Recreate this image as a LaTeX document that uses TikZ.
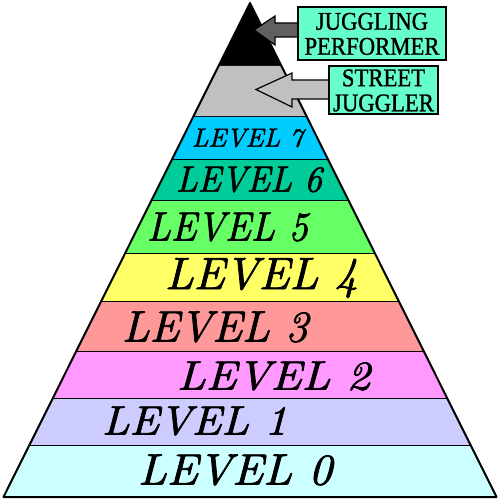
\documentclass[tikz,border=0pt]{standalone}
\usepackage{fontspec}
\usepackage{graphicx}
\newfontfamily\boxfont[FakeBold=1.2]{Liberation Serif}
\newfontfamily\lvfont[FakeBold=1.6]{Latin Modern Roman}
\definecolor{lvgray}{HTML}{C0C0C0}
\definecolor{lvseven}{HTML}{00CCFF}
\definecolor{lvsix}{HTML}{00CC99}
\definecolor{lvfive}{HTML}{66FF66}
\definecolor{lvfour}{HTML}{FFFF66}
\definecolor{lvthree}{HTML}{FF9999}
\definecolor{lvtwo}{HTML}{FF99FF}
\definecolor{lvone}{HTML}{CCCCFF}
\definecolor{lvzero}{HTML}{CCFFFF}
\definecolor{boxfill}{HTML}{66FFCC}
\definecolor{darkarrow}{HTML}{606060}
\newcommand\pyrband[3]{%
  \fill[#3] ({250-0.499*(#1-3)},#1) -- ({250+0.499*(#1-3)},#1) -- ({250+0.499*(#2-3)},#2) -- ({250-0.499*(#2-3)},#2) -- cycle;
  \draw[sepline] ({250-0.499*(#2-3)},#2) -- ({250+0.499*(#2-3)},#2);}
\newcommand\lvtext[3]{\resizebox{#1pt}{#2pt}{\lvfont\itshape #3}}
\newcommand\boxtext[2]{\scalebox{0.89}[1]{\begin{tabular}[b]{@{}c@{}}#1\\#2\end{tabular}}}
\begin{document}
\begin{tikzpicture}[x=1pt,y=-1pt,
  sepline/.style={line width=2pt},
  lvlabel/.style={inner sep=0pt, outer sep=0pt, anchor=center},
  jbox/.style={draw=black, line width=1.5pt, fill=boxfill, inner sep=0pt, text depth=0pt,
    font=\boxfont\fontsize{25.5}{25}\selectfont},
  blockarrow/.style={draw=black, line width=1.2pt, line join=miter}]
\useasboundingbox (0,0) rectangle (500,500);
% apex
\fill[black] (250,3) -- ({250+0.499*63},66) -- ({250-0.499*63},66) -- cycle;
\pyrband{66}{117}{lvgray}
\pyrband{117}{160}{lvseven}
\pyrband{160}{201}{lvsix}
\pyrband{201}{254}{lvfive}
\pyrband{254}{302}{lvfour}
\pyrband{302}{352}{lvthree}
\pyrband{352}{399}{lvtwo}
\pyrband{399}{446}{lvone}
\pyrband{446}{497}{lvzero}
\draw[line width=2pt, line join=round] (250,3) -- ({250-0.499*494},497) -- ({250+0.499*494},497) -- cycle;
% labels
\node[lvlabel] (l7) at (247.5,138) {\lvtext{111}{18}{LEVEL 7}};
\node[lvlabel] (l6) at (249,179.5) {\lvtext{146}{25}{LEVEL 6}};
\node[lvlabel] (l5) at (227.5,227) {\lvtext{161}{28}{LEVEL 5}};
\node[lvlabel] (l4) at (261.5,278) {\lvtext{193}{31}{LEVEL 4}};
\node[lvlabel] (l3) at (215,327) {\lvtext{186}{30}{LEVEL 3}};
\node[lvlabel] (l2) at (273.5,376) {\lvtext{193}{28}{LEVEL 2}};
\node[lvlabel] (l1) at (194.5,421) {\lvtext{185}{28}{LEVEL 1}};
\node[lvlabel] (l0) at (235,470) {\lvtext{194}{30}{LEVEL 0}};
% arrows
\coordinate (t1) at (254,30);
\coordinate (t2) at (256,89.5);
\draw[blockarrow, fill=darkarrow] (300,23) -- (275,23) -- (275,16) -- (t1) -- (275,45) -- (275,37) -- (300,37) -- cycle;
\draw[blockarrow, fill=lvgray] (331,80) -- (292,80) -- (292,73) -- (t2) -- (292,107) -- (292,99) -- (331,99) -- cycle;
% boxes
\node[jbox, minimum width=148pt, minimum height=53pt] (b1) at (372,33.5) {\boxtext{JUGGLING}{PERFORMER}};
\node[jbox, minimum width=109pt, minimum height=48pt] (b2) at (383.5,90) {\boxtext{STREET}{JUGGLER}};
\end{tikzpicture}
\end{document}
